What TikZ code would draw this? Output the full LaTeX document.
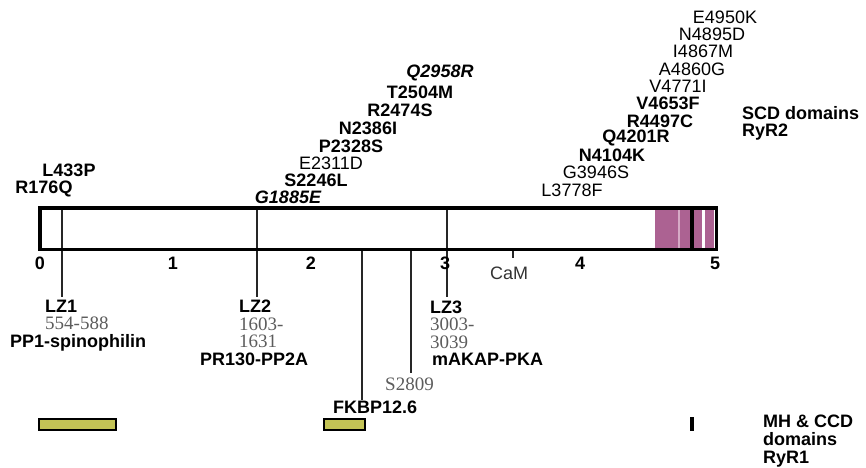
\documentclass[tikz,border=0pt]{standalone}
\usepackage{fontspec}
\setmainfont{Liberation Sans}
\newfontfamily\rangefont{Liberation Serif}
\usepackage{tikz}
\usetikzlibrary{positioning}
\definecolor{scdPink}{RGB}{172,98,146}
\definecolor{scdLight}{RGB}{214,170,198}
\definecolor{mhYellow}{RGB}{196,196,86}
\definecolor{rangeGray}{RGB}{92,92,92}

\begin{document}
\begin{tikzpicture}[x=1pt, y=-1pt,
        mut/.style={inner sep=0pt, font=\fontsize{18}{20}\selectfont\bfseries},
        mutlt/.style={inner sep=0pt, font=\fontsize{18}{20}\selectfont},
        mutit/.style={inner sep=0pt, font=\fontsize{18}{20}\selectfont\bfseries\itshape},
        scalelbl/.style={inner sep=0pt, font=\fontsize{18}{20}\selectfont\bfseries},
        lzlbl/.style={inner sep=0pt, anchor=west, font=\fontsize{18}{20}\selectfont\bfseries},
        rangelbl/.style={inner sep=0pt, anchor=west, text=rangeGray, font=\fontsize{19}{20}\rangefont},
        domlbl/.style={inner sep=0pt, anchor=west, font=\fontsize{18}{20}\selectfont\bfseries},
        seqbar/.style={draw=black, line width=3.5pt, minimum width=676.5pt, minimum height=41.5pt, inner sep=0pt},
        site/.style={line width=1.6pt, black!85},
        mhbox/.style={draw=black, line width=2pt, fill=mhYellow, minimum height=11pt, inner sep=0pt},
    ]
    \useasboundingbox (0,0) rectangle (866,467);
    % SCD segment at the C-terminal end
    \fill[scdPink] (655,209) rectangle (714,248);
    \fill[scdLight] (678,209) rectangle (680,248);
    \fill[white] (702,209) rectangle (704.5,248);
    \fill[black] (689.5,208) rectangle (694,249);
    % binding sites
    \coordinate (lz1top) at (62,208);
    \coordinate (lz1end) at (62,297);
    \coordinate (lz2top) at (257,208);
    \coordinate (lz2end) at (257,297);
    \coordinate (lz3top) at (447,208);
    \coordinate (lz3end) at (447,297);
    \coordinate (fkbtop) at (362,250);
    \coordinate (fkbend) at (362,400);
    \coordinate (ptop) at (411,250);
    \coordinate (pend) at (411,373);
    \coordinate (camtop) at (513,250);
    \coordinate (camend) at (513,258);
    \draw[site] (lz1top) -- (lz1end);
    \draw[site] (lz2top) -- (lz2end);
    \draw[site] (lz3top) -- (lz3end);
    \draw[site] (fkbtop) -- (fkbend);
    \draw[site] (ptop) -- (pend);
    \draw[site] (camtop) -- (camend);
    \node[seqbar] (seq) at (378,228.5) {};
    % scale
    \node[scalelbl] (s0) at (40,263) {0};
    \node[scalelbl] (s1) at (173,263) {1};
    \node[scalelbl] (s2) at (311,263) {2};
    \node[scalelbl] (s3) at (445,263) {3};
    \node[scalelbl] (s4) at (580,263) {4};
    \node[scalelbl] (s5) at (715,263) {5};
    \node[mutlt, text=black!80] (cam) at (509,273) {CaM};
    % mutations
    \node[mut] (r176) at (44,189) {R176Q};
    \node[mut] (l433) at (69,170) {L433P};
    \node[mutit] (g1885) at (288,197.5) {G1885E};
    \node[mut] (s2246) at (316,180.5) {S2246L};
    \node[mutlt] (e2311) at (331,163) {E2311D};
    \node[mut] (p2328) at (351,146) {P2328S};
    \node[mut] (n2386) at (368,128.5) {N2386I};
    \node[mut] (r2474) at (400,110.5) {R2474S};
    \node[mut] (t2504) at (420,92) {T2504M};
    \node[mutit] (q2958) at (440,73) {Q2958R};
    \node[mutlt] (l3778) at (572,190) {L3778F};
    \node[mutlt] (g3946) at (596,172.7) {G3946S};
    \node[mut] (n4104) at (612,155.4) {N4104K};
    \node[mut] (q4201) at (636,138.1) {Q4201R};
    \node[mut] (r4497) at (660,120.8) {R4497C};
    \node[mut] (v4653) at (668,103.5) {V4653F};
    \node[mutlt] (v4771) at (678,86.2) {V4771I};
    \node[mutlt] (a4860) at (692,68.9) {A4860G};
    \node[mutlt] (i4867) at (703,51.6) {I4867M};
    \node[mutlt] (n4895) at (712,34.3) {N4895D};
    \node[mutlt] (e4950) at (725,17) {E4950K};
    \node[domlbl] (scd) at (742,113) {SCD domains};
    \node[domlbl] (ryr2) at (742,132.5) {RyR2};
    % binding partners
    \node[lzlbl] (lz1) at (45,306) {LZ1};
    \node[rangelbl] (lz1rng) at (45,323) {554-588};
    \node[lzlbl] (pp1) at (10,343) {PP1-spinophilin};
    \node[lzlbl] (lz2) at (239,306) {LZ2};
    \node[rangelbl] (lz2rnga) at (239,324) {1603-};
    \node[rangelbl] (lz2rngb) at (239,341.5) {1631};
    \node[lzlbl] (pp2a) at (200,359) {PR130-PP2A};
    \node[lzlbl] (lz3) at (430,307) {LZ3};
    \node[rangelbl] (lz3rnga) at (430,324.5) {3003-};
    \node[rangelbl] (lz3rngb) at (430,342) {3039};
    \node[lzlbl] (makap) at (432,359) {mAKAP-PKA};
    \node[rangelbl] (s2809) at (385,384) {S2809};
    \node[lzlbl] (fkbp) at (333,407) {FKBP12.6};
    % RyR1 hot spots
    \node[mhbox, minimum width=77pt] (mh1) at (77.5,424.5) {};
    \node[mhbox, minimum width=41pt] (mh2) at (344,424.5) {};
    \node[fill=black, minimum width=3.5pt, minimum height=14pt, inner sep=0pt] (mh3) at (692,424) {};
    \node[domlbl] (mhccd) at (763,421) {MH \& CCD};
    \node[domlbl] (dom1) at (763,439.5) {domains};
    \node[domlbl] (ryr1) at (763,459) {RyR1};
\end{tikzpicture}
\end{document}
